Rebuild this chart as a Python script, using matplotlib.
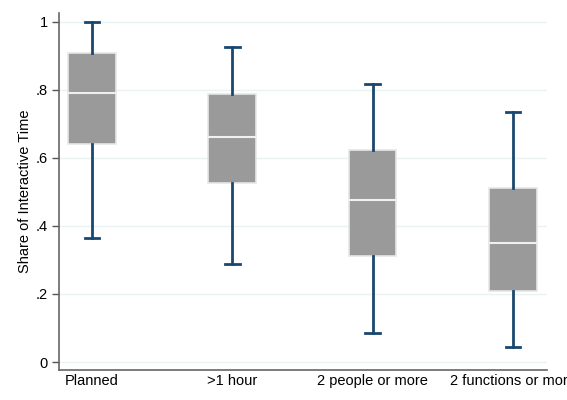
import matplotlib
matplotlib.use("Agg")
import matplotlib.pyplot as plt

plt.rcParams["font.family"] = ["Liberation Sans", "DejaVu Sans"]

categories = ["Planned", ">1 hour", "2 people or more", "2 functions or more"]
whislo = [0.365, 0.288, 0.085, 0.045]
q1 = [0.640, 0.526, 0.312, 0.209]
med = [0.792, 0.662, 0.476, 0.350]
q3 = [0.907, 0.788, 0.624, 0.512]
whishi = [1.000, 0.926, 0.818, 0.735]
yticks = [0, 0.2, 0.4, 0.6, 0.8, 1.0]
yticklabels = ["0", ".2", ".4", ".6", ".8", "1"]

W, H = 567, 400
fig = plt.figure(figsize=(W / 100, H / 100), dpi=100)
ax = fig.add_axes([59 / W, 1 - 370 / H, (547 - 59) / W, (370 - 13) / H])

stats = []
for i, c in enumerate(categories):
    stats.append(dict(label=c, whislo=whislo[i], q1=q1[i], med=med[i],
                      q3=q3[i], whishi=whishi[i], fliers=[]))

navy = "#1a476f"
ax.bxp(stats, positions=[1, 2, 3, 4], widths=0.34, patch_artist=True,
       showfliers=False,
       boxprops=dict(facecolor="#9a9a9a", edgecolor="#e6e6e6", linewidth=1.2),
       medianprops=dict(color="#f0f0f0", linewidth=1.5),
       whiskerprops=dict(color=navy, linewidth=2),
       capprops=dict(color=navy, linewidth=2),
       capwidths=0.105)

ax.set_xlim(0.765, 4.243)
ax.set_ylim(-0.0235, 1.026)
ax.set_yticks(yticks)
ax.set_yticklabels(yticklabels, fontsize=10.5)
ax.set_xticks([1, 2, 3, 4])
ax.set_xticklabels(categories, fontsize=10.5)
ax.tick_params(axis="x", length=0, pad=3)
ax.tick_params(axis="y", length=5, width=1, color="#555555", pad=3)
ax.yaxis.grid(True, color="#eaf2f3", linewidth=1)
ax.set_axisbelow(True)
for s in ["top", "right"]:
    ax.spines[s].set_visible(False)
for s in ["left", "bottom"]:
    ax.spines[s].set_color("#666666")
    ax.spines[s].set_linewidth(1.2)
ax.set_ylabel("Share of Interactive Time", fontsize=10.5)
ax.yaxis.set_label_coords(-(59 - 32) / (547 - 59), 0.5)

fig.savefig("out.png", dpi=100)
